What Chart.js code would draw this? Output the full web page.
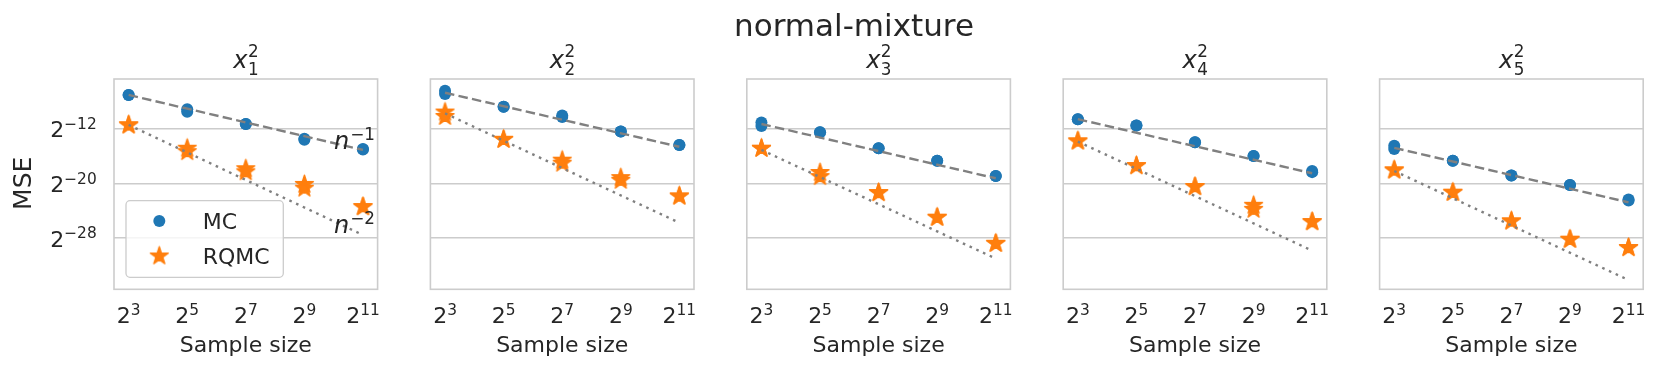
<!DOCTYPE html>
<html lang="en">
  <head>
    <meta charset="UTF-8" />
    <script src="https://cdn.jsdelivr.net/npm/chart.js"></script>
    <title>normal-mixture</title>
    <style>
      * {
        padding: 0;
        margin: 0;
        box-sizing: border-box;
      }
      body {
        width: 1661px;
        height: 370px;
        background: #fff;
        overflow: hidden;
        position: relative;
      }
      canvas {
        position: absolute;
        left: 0;
        top: 0;
      }
    </style>
  </head>
  <body>
    <canvas id="p0" width="1661" height="370"></canvas>
    <canvas id="p1" width="1661" height="370"></canvas>
    <canvas id="p2" width="1661" height="370"></canvas>
    <canvas id="p3" width="1661" height="370"></canvas>
    <canvas id="p4" width="1661" height="370"></canvas>
    <script>
      // everything is log2: x = log2(sample size), y = log2(MSE)
      const sampleExp = [3, 5, 7, 9, 11];
      const lineEnds = [3, 11];
      const xTickExp = [3, 5, 7, 9, 11];
      const yTickExp = [-28, -20, -12];
      const panelSub = ['1', '2', '3', '4', '5'];

      // two overlapping runs per method, one row per panel
      const mcRunA = [
        [-7.05, -9.15, -11.3, -13.45, -14.95],
        [-6.45, -8.78, -10.05, -12.4, -14.39],
        [-11.1, -12.52, -14.86, -16.67, -18.91],
        [-10.61, -11.54, -13.98, -15.98, -18.2],
        [-14.5, -16.67, -18.86, -20.23, -22.35],
      ];
      const mcRunB = [
        [-7.05, -9.5, -11.3, -13.6, -15.05],
        [-6.9, -8.78, -10.3, -12.4, -14.39],
        [-11.6, -12.52, -14.86, -16.67, -18.91],
        [-10.61, -11.54, -13.98, -15.98, -18.35],
        [-14.95, -16.67, -18.86, -20.23, -22.5],
      ];
      const rqmcRunA = [
        [-11.44, -14.85, -17.85, -20.15, -23.4],
        [-9.55, -13.55, -16.6, -19.15, -21.85],
        [-14.86, -18.4, -21.35, -24.96, -28.77],
        [-13.79, -17.4, -20.47, -23.2, -25.6],
        [-18.03, -21.3, -25.5, -28.18, -29.4],
      ];
      const rqmcRunB = [
        [-11.44, -15.35, -18.3, -20.7, -23.4],
        [-10.2, -13.55, -17.05, -19.55, -21.85],
        [-14.86, -19.0, -21.35, -24.96, -28.77],
        [-13.79, -17.4, -20.47, -23.8, -25.6],
        [-18.03, -21.3, -25.5, -28.18, -29.4],
      ];
      // reference rates, endpoints at 2^3 and 2^11
      const rateN1 = [
        [-7.05, -15.1],
        [-6.73, -14.64],
        [-11.3, -19.25],
        [-10.6, -18.52],
        [-14.8, -22.77],
      ];
      const rateN2 = [
        [-11.44, -27.55],
        [-9.75, -25.76],
        [-15.1, -31.0],
        [-13.88, -29.84],
        [-18.18, -34.14],
      ];

      const BLUE = '#1f77b4';
      const ORANGE = '#ff7f0e';
      const GRID = '#cccccc';
      const TEXT = '#262626';
      const FONT = '"DejaVu Sans"';

      // filled star marker like matplotlib '*'
      function makeStar(R) {
        const c = document.createElement('canvas');
        const s = Math.ceil(R * 2 + 4);
        c.width = s;
        c.height = s;
        const g = c.getContext('2d');
        g.beginPath();
        for (let i = 0; i < 10; i++) {
          const r = i % 2 ? R * 0.381966 : R;
          const a = -Math.PI / 2 + (i * Math.PI) / 5;
          g.lineTo(s / 2 + r * Math.cos(a), s / 2 + r * Math.sin(a));
        }
        g.closePath();
        g.fillStyle = ORANGE;
        g.fill();
        g.strokeStyle = ORANGE;
        g.lineWidth = 1.4;
        g.lineJoin = 'round';
        g.stroke();
        return c;
      }
      const star = makeStar(9.4);

      function pts(xs, ys) {
        return xs.map((x, i) => ({ x: x, y: ys[i] }));
      }

      // base with superscript, mathtext style
      function pow(ctx, base, exp, x, y, size, align) {
        const big = size + 'px ' + FONT;
        const small = size * 0.7 + 'px ' + FONT;
        ctx.font = big;
        const wb = ctx.measureText(base).width;
        ctx.font = small;
        const we = ctx.measureText(exp).width;
        let x0 = x;
        if (align === 'center') x0 = x - (wb + we) / 2;
        if (align === 'right') x0 = x - wb - we;
        ctx.textAlign = 'left';
        ctx.textBaseline = 'alphabetic';
        ctx.font = big;
        ctx.fillText(base, x0, y);
        ctx.font = small;
        ctx.fillText(exp, x0 + wb, y - size * 0.385);
      }

      function rateLabel(ctx, exp, x, y) {
        ctx.font = 'italic 24px ' + FONT;
        ctx.textAlign = 'left';
        ctx.fillText('n', x, y);
        const w = ctx.measureText('n').width;
        ctx.font = '16.8px ' + FONT;
        ctx.fillText(exp, x + w + 1, y - 9.5);
      }

      const plotTop = 79;
      const plotBottom = 289.3;
      const firstLeft = 114;
      const panelStep = 316.4;
      const panelWidth = 263.6;

      function decor(k) {
        return {
          id: 'decor' + k,
          afterDraw(chart) {
            const ctx = chart.ctx;
            const a = chart.chartArea;
            const sx = chart.scales.x;
            const sy = chart.scales.y;
            ctx.save();
            // frame
            ctx.strokeStyle = GRID;
            ctx.lineWidth = 1.6;
            ctx.strokeRect(a.left, a.top, a.right - a.left, a.bottom - a.top);

            ctx.fillStyle = TEXT;
            xTickExp.forEach((e) => {
              pow(ctx, '2', String(e), sx.getPixelForValue(e), 323.3, 22, 'center');
            });
            const cx = (a.left + a.right) / 2;
            ctx.font = '22px ' + FONT;
            ctx.textAlign = 'center';
            ctx.fillText('Sample size', cx, 352);

            // subplot title x_k^2
            ctx.font = 'italic 24px ' + FONT;
            const wx = ctx.measureText('x').width;
            ctx.font = '16.8px ' + FONT;
            const wd = ctx.measureText('2').width;
            const tx = cx - (wx + wd) / 2;
            ctx.textAlign = 'left';
            ctx.font = 'italic 24px ' + FONT;
            ctx.fillText('x', tx, 68.3);
            ctx.font = '16.8px ' + FONT;
            ctx.fillText(panelSub[k], tx + wx + 0.5, 75);
            ctx.fillText('2', tx + wx + 0.5, 56.7);

            if (k === 0) {
              yTickExp.forEach((e) => {
                pow(ctx, '2', '\u2212' + Math.abs(e), 96.7, sy.getPixelForValue(e) + 8.6, 22, 'right');
              });
              ctx.save();
              ctx.translate(24, 183.3);
              ctx.rotate(-Math.PI / 2);
              ctx.font = '25px ' + FONT;
              ctx.textAlign = 'center';
              ctx.textBaseline = 'middle';
              ctx.fillText('MSE', 0, 0);
              ctx.restore();

              rateLabel(ctx, '\u22121', 334, 149.3);
              rateLabel(ctx, '\u22122', 334, 233.3);

              // legend
              ctx.beginPath();
              ctx.roundRect(126, 200.7, 157.3, 76.6, 4);
              ctx.fillStyle = 'rgba(255,255,255,0.8)';
              ctx.fill();
              ctx.strokeStyle = GRID;
              ctx.lineWidth = 1.3;
              ctx.stroke();
              ctx.beginPath();
              ctx.arc(159.3, 221, 6, 0, Math.PI * 2);
              ctx.fillStyle = BLUE;
              ctx.fill();
              ctx.drawImage(star, 159.3 - star.width / 2, 256 - star.height / 2);
              ctx.fillStyle = TEXT;
              ctx.font = '22px ' + FONT;
              ctx.textAlign = 'left';
              ctx.fillText('MC', 202.7, 228.6);
              ctx.fillText('RQMC', 202.7, 263.6);

              ctx.font = '31px ' + FONT;
              ctx.textAlign = 'center';
              ctx.fillText('normal-mixture', 854, 36);
            }
            ctx.restore();
          },
        };
      }

      for (let k = 0; k < 5; k++) {
        const left = firstLeft + k * panelStep;
        new Chart(document.getElementById('p' + k), {
          type: 'scatter',
          data: {
            datasets: [
              {
                label: 'n^-1',
                data: pts(lineEnds, rateN1[k]),
                showLine: true,
                pointRadius: 0,
                borderColor: '#808080',
                borderWidth: 2.4,
                borderDash: [9.5, 4.3],
                order: 0,
              },
              {
                label: 'n^-2',
                data: pts(lineEnds, rateN2[k]),
                showLine: true,
                pointRadius: 0,
                borderColor: '#808080',
                borderWidth: 2.4,
                borderDash: [2.6, 4.8],
                order: 0,
              },
              {
                label: 'MC',
                data: pts(sampleExp, mcRunA[k]).concat(pts(sampleExp, mcRunB[k])),
                pointStyle: 'circle',
                pointRadius: 6,
                backgroundColor: BLUE,
                borderWidth: 0,
                order: 2,
              },
              {
                label: 'RQMC',
                data: pts(sampleExp, rqmcRunA[k]).concat(pts(sampleExp, rqmcRunB[k])),
                pointStyle: star,
                pointRadius: 9,
                order: 1,
              },
            ],
          },
          options: {
            responsive: false,
            animation: false,
            layout: {
              padding: {
                left: left,
                right: 1661 - left - panelWidth,
                top: plotTop,
                bottom: 370 - plotBottom,
              },
            },
            plugins: { legend: { display: false }, tooltip: { enabled: false } },
            scales: {
              x: {
                type: 'linear',
                min: 2.5,
                max: 11.5,
                afterBuildTicks: (s) => {
                  s.ticks = xTickExp.map((v) => ({ value: v }));
                },
                ticks: { display: false },
                grid: { display: false, drawTicks: false },
                border: { display: false },
              },
              y: {
                type: 'linear',
                min: -35.5,
                max: -4.72,
                afterBuildTicks: (s) => {
                  s.ticks = yTickExp.map((v) => ({ value: v }));
                },
                ticks: { display: false },
                grid: { color: GRID, lineWidth: 1.6, drawTicks: false },
                border: { display: false },
              },
            },
          },
          plugins: [decor(k)],
        });
      }
    </script>
  </body>
</html>
